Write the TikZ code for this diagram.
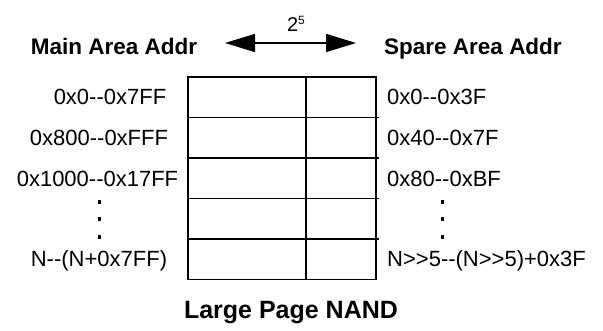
\documentclass[tikz,border=0pt]{standalone}
\usepackage{fontspec}
\setmainfont{Liberation Sans}
\usetikzlibrary{arrows.meta}

\begin{document}
\begin{tikzpicture}[x=1pt,y=-1pt,>={Triangle[length=30pt,width=18pt]},
    cellbox/.style={draw,line width=1.8pt,minimum height=40.5pt,inner sep=0pt,outer sep=0pt,anchor=north west},
    addr/.style={anchor=base,inner sep=0pt,font=\fontsize{22}{24}\selectfont},
    head/.style={anchor=base,inner sep=0pt,font=\fontsize{22.5}{26}\selectfont\bfseries},
    vdot/.style={fill=black,minimum width=3pt,minimum height=4pt,inner sep=0pt}]
            \useasboundingbox (0,0) rectangle (603,331);

            % the page: main area and spare area
            \foreach \i in {1,...,5}{
                \node[cellbox,minimum width=118pt] (main\i) at (188,{77+40.5*(\i-1)}) {};
                \node[cellbox,minimum width=70pt] (spare\i) at (main\i.north east) {};
            }
            \foreach \i in {1,...,4}
                \draw[line width=1.8pt] (spare\i.south east) -- ++(3,0);

            % column headers
            \node[head] (mainhd) at (114,55) {Main Area Addr};
            \node[head] (sparehd) at (473,55) {Spare Area Addr};

            % width of the spare area
            \coordinate (wl) at (225,43);
            \coordinate (wr) at (356,43);
            \draw[<->,line width=1.5pt] (wl) -- (wr);
            \node[anchor=base,inner sep=0pt,font=\fontsize{20}{22}\selectfont] (wd) at (296,32) {2\raisebox{7pt}{\fontsize{12}{12}\selectfont 5}};

            % main area addresses
            \node[addr] (ma1) at (110,105) {0x0-{}-0x7FF};
            \node[addr] (ma2) at (99,146) {0x800-{}-0xFFF};
            \node[addr] (ma3) at (97.5,187) {0x1000-{}-0x17FF};
            \node[addr] (ma5) at (99,267) {N-{}-(N+0x7FF)};

            % spare area addresses
            \node[addr,anchor=base west] (sa1) at (387,105) {0x0-{}-0x3F};
            \node[addr,anchor=base west] (sa2) at (387,146) {0x40-{}-0x7F};
            \node[addr,anchor=base west] (sa3) at (387,187) {0x80-{}-0xBF};
            \node[addr,anchor=base west] (sa5) at (387,267) {N>{}>5-{}-(N>{}>5)+0x3F};

            % dots
            \foreach \y [count=\k] in {202,219,237}{
                \node[vdot] (ld\k) at (99,\y) {};
                \node[vdot] (rd\k) at (442,\y) {};
            }

            % caption
            \node[head,font=\fontsize{25}{28}\selectfont\bfseries] (title) at (291,319) {Large Page NAND};
\end{tikzpicture}
\end{document}
